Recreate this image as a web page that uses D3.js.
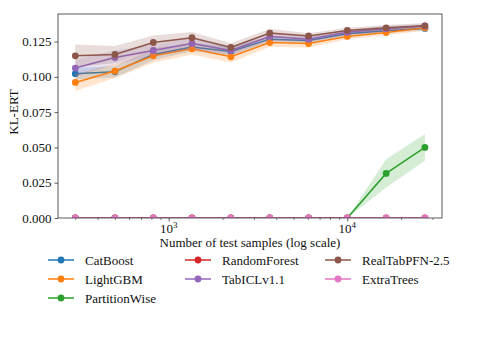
<!DOCTYPE html>
<html>
<head>
<meta charset="utf-8">
<script src="https://cdn.jsdelivr.net/npm/d3@7"></script>
<style>
  body { margin: 0; background: #fff; }
  svg { display: block; }
  svg text { font-family: "Liberation Serif", "DejaVu Serif", serif; }
</style>
</head>
<body>
<div id="chart"></div>
<script>
// Data
const samples = [300, 500, 820, 1350, 2230, 3680, 6070, 10000, 16500, 27200];

const catBoost     = [0.1022, 0.1036, 0.1158, 0.1211, 0.1180, 0.1267, 0.1258, 0.1305, 0.1326, 0.1343];
const lightGBM     = [0.0960, 0.1041, 0.1149, 0.1199, 0.1142, 0.1243, 0.1236, 0.1286, 0.1314, 0.1347];
const partitionWise = [0, 0, 0, 0, 0, 0, 0, 0, 0.0316, 0.0500];
const randomForest = [0, 0, 0, 0, 0, 0, 0, 0, 0, 0];
const tabICL       = [0.1062, 0.1137, 0.1187, 0.1236, 0.1187, 0.1286, 0.1267, 0.1315, 0.1340, 0.1360];
const realTabPFN   = [0.1149, 0.1158, 0.1243, 0.1277, 0.1208, 0.1310, 0.1289, 0.1328, 0.1347, 0.1361];
const extraTrees   = [0, 0, 0, 0, 0, 0, 0, 0, 0, 0];

const catBoostErr      = [0.004, 0.004, 0.004, 0.003, 0.003, 0.002, 0.002, 0.002, 0.0015, 0.0015];
const lightGBMErr      = [0.006, 0.005, 0.005, 0.004, 0.004, 0.003, 0.003, 0.002, 0.002, 0.002];
const partitionWiseErr = [0, 0, 0, 0, 0, 0, 0, 0, 0.010, 0.0095];
const zeroErr          = [0, 0, 0, 0, 0, 0, 0, 0, 0, 0];
const tabICLErr        = [0.006, 0.005, 0.004, 0.004, 0.003, 0.003, 0.002, 0.002, 0.002, 0.0015];
const realTabPFNErr    = [0.008, 0.006, 0.005, 0.004, 0.003, 0.003, 0.002, 0.002, 0.002, 0.002];

const yTicks = [0, 0.025, 0.05, 0.075, 0.1, 0.125];
const xMajorTicks = [1000, 10000];

const series = [
    { name: "CatBoost", values: catBoost, err: catBoostErr, color: "#1f77b4" },
    { name: "LightGBM", values: lightGBM, err: lightGBMErr, color: "#ff7f0e" },
    { name: "PartitionWise", values: partitionWise, err: partitionWiseErr, color: "#2ca02c" },
    { name: "RandomForest", values: randomForest, err: zeroErr, color: "#d62728" },
    { name: "TabICLv1.1", values: tabICL, err: tabICLErr, color: "#9467bd" },
    { name: "RealTabPFN-2.5", values: realTabPFN, err: realTabPFNErr, color: "#8c564b" },
    { name: "ExtraTrees", values: extraTrees, err: zeroErr, color: "#e377c2" }
];

const width = 478, height = 359;
const margin = { top: 14, right: 36, bottom: 141, left: 58 };
const plotW = width - margin.left - margin.right;
const plotH = height - margin.top - margin.bottom;
const serif = "Liberation Serif, DejaVu Serif, serif";

const svg = d3.select("#chart").append("svg")
    .attr("width", width)
    .attr("height", height);

const x = d3.scaleLog()
    .domain([240, 33900])
    .range([margin.left, margin.left + plotW]);

const y = d3.scaleLinear()
    .domain([0, 0.1445])
    .range([margin.top + plotH, margin.top]);

svg.append("clipPath")
    .attr("id", "clip")
    .append("rect")
    .attr("x", margin.left)
    .attr("y", margin.top)
    .attr("width", plotW)
    .attr("height", plotH);

const plot = svg.append("g").attr("clip-path", "url(#clip)");

const area = d3.area()
    .x((d, i) => x(samples[i]))
    .y0(d => y(d.lo))
    .y1(d => y(d.hi));

const line = d3.line()
    .x((d, i) => x(samples[i]))
    .y(d => y(d));

series.forEach(s => {
    const band = s.values.map((v, i) => ({ lo: v - s.err[i], hi: v + s.err[i] }));
    plot.append("path")
        .datum(band)
        .attr("fill", s.color)
        .attr("fill-opacity", 0.2)
        .attr("d", area);

    plot.append("path")
        .datum(s.values)
        .attr("fill", "none")
        .attr("stroke", s.color)
        .attr("stroke-width", 1.5)
        .attr("d", line);

    plot.append("g")
        .selectAll("circle")
        .data(s.values)
        .join("circle")
        .attr("cx", (d, i) => x(samples[i]))
        .attr("cy", d => y(d))
        .attr("r", 3.4)
        .attr("fill", s.color);
});

// Axes
const axisColor = "#333";

const yAxis = svg.append("g")
    .attr("transform", `translate(${margin.left},0)`)
    .call(d3.axisLeft(y).tickValues(yTicks).tickFormat(d3.format(".3f")).tickSizeOuter(0).tickSize(3.5).tickPadding(3))
    .attr("font-family", serif)
    .attr("font-size", 13);
yAxis.select(".domain").remove();
yAxis.selectAll(".tick line").attr("stroke", axisColor).attr("stroke-width", 0.8);
yAxis.selectAll(".tick text").attr("fill", "#111");

// minor log ticks
const minorTicks = [];
[100, 1000, 10000].forEach(base => {
    for (let k = 2; k <= 9; k++) {
        const v = base * k;
        if (v > x.domain()[0] && v < x.domain()[1]) minorTicks.push(v);
    }
});

const xAxisMinor = svg.append("g")
    .attr("transform", `translate(0,${margin.top + plotH})`)
    .call(d3.axisBottom(x).tickValues(minorTicks).tickFormat("").tickSize(2).tickSizeOuter(0));
xAxisMinor.select(".domain").remove();
xAxisMinor.selectAll(".tick line").attr("stroke", axisColor).attr("stroke-width", 0.6);

const xAxis = svg.append("g")
    .attr("transform", `translate(0,${margin.top + plotH})`)
    .call(d3.axisBottom(x).tickValues(xMajorTicks).tickFormat("").tickSize(3.5).tickSizeOuter(0));
xAxis.select(".domain").remove();
xAxis.selectAll(".tick line").attr("stroke", axisColor).attr("stroke-width", 0.8);

xMajorTicks.forEach(v => {
    const t = svg.append("text")
        .attr("x", x(v))
        .attr("y", margin.top + plotH + 15)
        .attr("text-anchor", "middle")
        .attr("font-size", 13)
        .attr("fill", "#111");
    t.append("tspan").text("10");
    t.append("tspan").attr("dy", -5).attr("font-size", 9).text(Math.round(Math.log10(v)));
});

// Frame
svg.append("rect")
    .attr("x", margin.left)
    .attr("y", margin.top)
    .attr("width", plotW)
    .attr("height", plotH)
    .attr("fill", "none")
    .attr("stroke", axisColor)
    .attr("stroke-width", 0.8);

// Axis labels
svg.append("text")
    .attr("x", margin.left + plotW / 2)
    .attr("y", 247)
    .attr("text-anchor", "middle")
    .attr("font-size", 13)
    .attr("fill", "#111")
    .text("Number of test samples (log scale)");

svg.append("text")
    .attr("transform", `translate(18,${margin.top + plotH / 2 - 4}) rotate(-90)`)
    .attr("text-anchor", "middle")
    .attr("font-size", 13)
    .attr("fill", "#111")
    .text("KL-ERT");

// Legend
const legendCols = [48, 185, 325];
const legendRows = [260, 279, 298];
const colOf = [0, 0, 0, 1, 1, 2, 2];
const rowOf = [0, 1, 2, 0, 1, 0, 1];

const legend = svg.append("g");
series.forEach((s, i) => {
    const g = legend.append("g")
        .attr("transform", `translate(${legendCols[colOf[i]]},${legendRows[rowOf[i]]})`);
    g.append("line")
        .attr("x1", 0).attr("x2", 26)
        .attr("y1", 0).attr("y2", 0)
        .attr("stroke", s.color)
        .attr("stroke-width", 1.5);
    g.append("circle")
        .attr("cx", 13).attr("cy", 0).attr("r", 3.4)
        .attr("fill", s.color);
    g.append("text")
        .attr("x", 37)
        .attr("y", 4.5)
        .attr("font-size", 13)
        .attr("fill", "#111")
        .text(s.name);
});
</script>
</body>
</html>
